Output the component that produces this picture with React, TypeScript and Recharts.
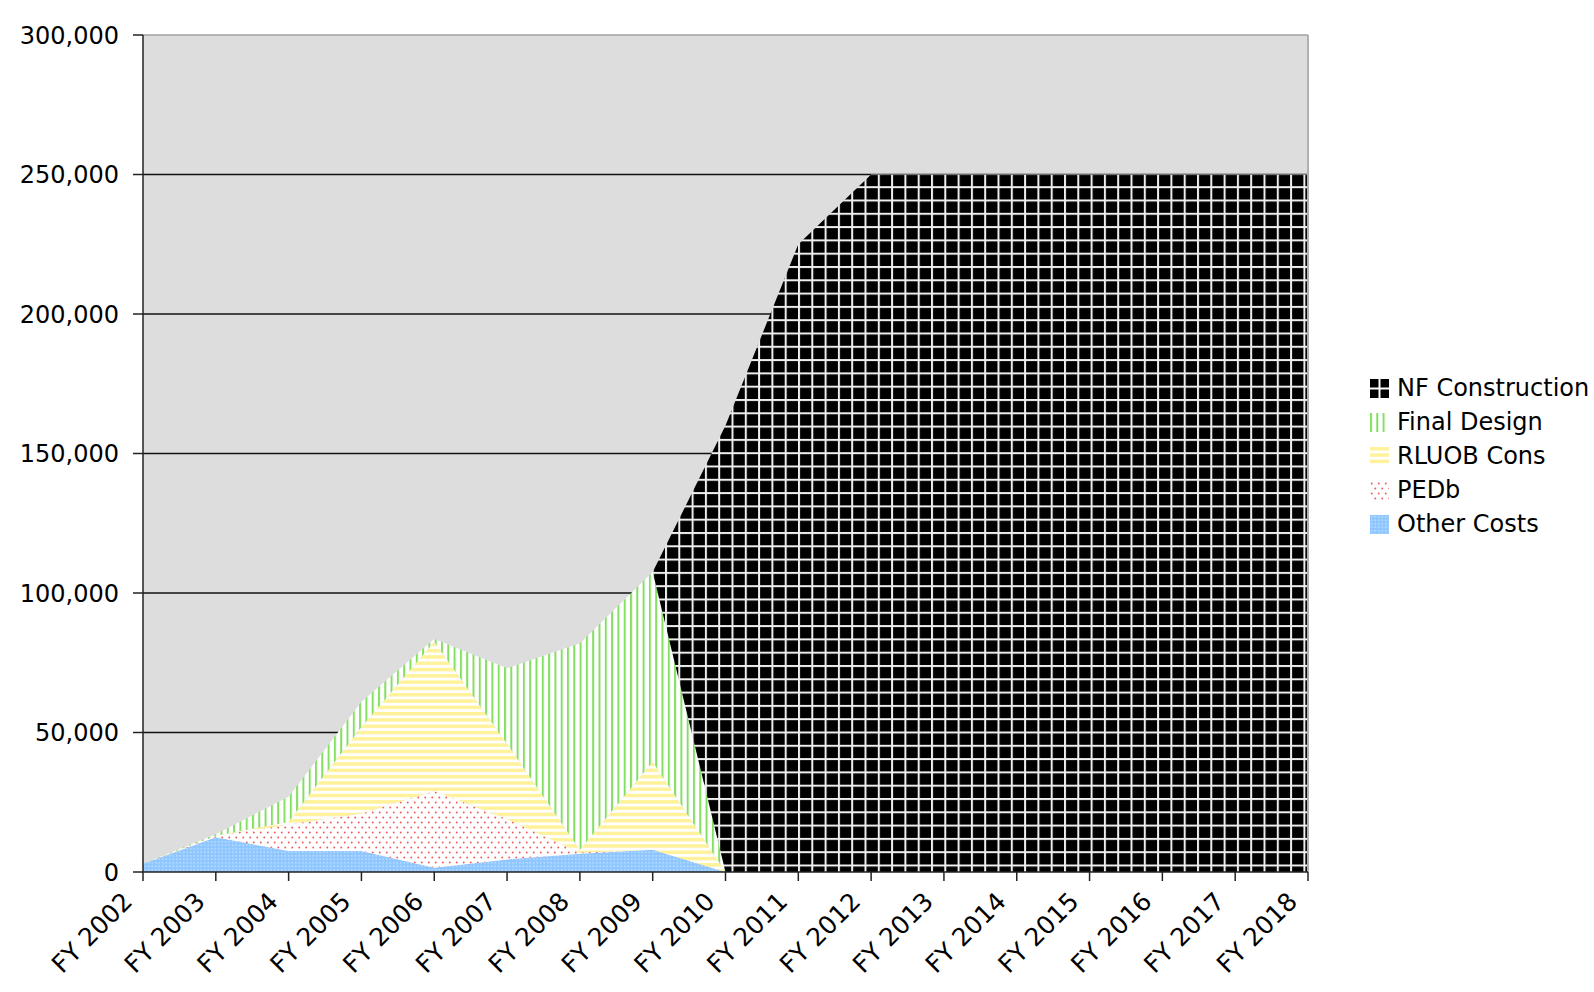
import React from 'react';
import { AreaChart, Area, XAxis, YAxis, CartesianGrid, ReferenceLine } from 'recharts';

const years = [
  'FY 2002', 'FY 2003', 'FY 2004', 'FY 2005', 'FY 2006', 'FY 2007', 'FY 2008', 'FY 2009', 'FY 2010',
  'FY 2011', 'FY 2012', 'FY 2013', 'FY 2014', 'FY 2015', 'FY 2016', 'FY 2017', 'FY 2018',
];
const otherCosts = [3000, 12500, 7500, 7500, 1500, 4500, 6500, 8000, 0, 0, 0, 0, 0, 0, 0, 0, 0];
const pedb = [0, 500, 9500, 13500, 27500, 14500, 500, 0, 0, 0, 0, 0, 0, 0, 0, 0, 0];
const rluobCons = [0, 0, 1000, 31000, 53500, 27000, 1000, 31500, 0, 0, 0, 0, 0, 0, 0, 0, 0];
const finalDesign = [0, 500, 9000, 9000, 1000, 27000, 74000, 68000, 0, 0, 0, 0, 0, 0, 0, 0, 0];
const nfConstruction = [0, 0, 0, 0, 0, 0, 0, 0, 160000, 225000, 250000, 250000, 250000, 250000, 250000, 250000, 250000];
const yTicks = [0, 50000, 100000, 150000, 200000, 250000, 300000];
const gridValues = [50000, 100000, 150000, 200000, 250000];

const seriesNames = {
  other: 'Other Costs',
  pedb: 'PEDb',
  rluob: 'RLUOB Cons',
  design: 'Final Design',
  nf: 'NF Construction',
};

const data = years.map((year, i) => ({
  year,
  other: otherCosts[i],
  pedb: pedb[i],
  rluob: rluobCons[i],
  design: finalDesign[i],
  nf: nfConstruction[i],
}));

const FONT = '"DejaVu Sans", Verdana, sans-serif';

function Patterns() {
  return (
    <svg width={0} height={0} style={{ position: 'absolute' }}>
      <defs>
        <pattern id="patNF" patternUnits="userSpaceOnUse" width={13.3} height={13.3}>
          <rect width={13.3} height={13.3} fill="#000" />
          <rect x={0} y={0} width={13.3} height={2} fill="#eeeeee" />
          <rect x={0} y={0} width={2} height={13.3} fill="#eeeeee" />
        </pattern>
        <pattern id="patDesign" patternUnits="userSpaceOnUse" width={6.3} height={10}>
          <rect width={6.3} height={10} fill="#fff" />
          <rect x={0} y={0} width={2} height={10} fill="#84de62" />
        </pattern>
        <pattern id="patRluob" patternUnits="userSpaceOnUse" width={10} height={6.3}>
          <rect width={10} height={6.3} fill="#fff" />
          <rect x={0} y={0} width={10} height={3.5} fill="#fff29a" />
        </pattern>
        <pattern id="patPedb" patternUnits="userSpaceOnUse" width={7} height={10}>
          <rect width={7} height={10} fill="#fff" />
          <circle cx={1.75} cy={2.5} r={0.95} fill="#f05858" />
          <circle cx={5.25} cy={7.5} r={0.95} fill="#f05858" />
        </pattern>
        <pattern id="patOther" patternUnits="userSpaceOnUse" width={3.5} height={3.5}>
          <rect width={3.5} height={3.5} fill="#8ec6ff" />
          <circle cx={1.75} cy={1.75} r={0.7} fill="#e8f3ff" />
        </pattern>
      </defs>
    </svg>
  );
}

const XTick = (props: any) => {
  const { x, y, payload } = props;
  return (
    <g transform={`translate(${x},${y})`}>
      <text
        x={0}
        y={0}
        dx={-22}
        dy={9}
        transform="rotate(-45)"
        textAnchor="end"
        fill="#000"
        fontSize={25}
        fontFamily={FONT}
      >
        {payload.value}
      </text>
    </g>
  );
};

const legendItems = [
  { key: 'nf', fill: 'nf' },
  { key: 'design', fill: 'url(#patDesign)' },
  { key: 'rluob', fill: 'url(#patRluob)' },
  { key: 'pedb', fill: 'url(#patPedb)' },
  { key: 'other', fill: 'url(#patOther)' },
];

function LegendBox() {
  return (
    <div style={{ position: 'absolute', left: 1370, top: 371, fontFamily: FONT, fontSize: 24, color: '#000' }}>
      {legendItems.map((it) => (
        <div key={it.key} style={{ display: 'flex', alignItems: 'center', height: 34, whiteSpace: 'nowrap' }}>
          <svg width={19} height={19} style={{ marginRight: 8 }}>
            {it.fill === 'nf' ? (
              <g>
                <rect width={19} height={19} fill="#000" />
                <rect x={8.5} y={0} width={2} height={19} fill="#fff" />
                <rect x={0} y={8.5} width={19} height={2} fill="#fff" />
              </g>
            ) : (
              <rect width={19} height={19} fill={it.fill} />
            )}
          </svg>
          <span>{(seriesNames as any)[it.key]}</span>
        </div>
      ))}
    </div>
  );
}

export default function App() {
  return (
    <div style={{ position: 'absolute', left: 0, top: 0, width: 1594, height: 992, background: '#fff' }}>
      <Patterns />
      <AreaChart
        width={1594}
        height={992}
        data={data}
        margin={{ top: 35, right: 286, bottom: 0, left: 0 }}
      >
        <CartesianGrid
          vertical={false}
          horizontalValues={gridValues}
          stroke="#111"
          strokeWidth={1.3}
          fill="#dddddd"
          fillOpacity={1}
        />
        <XAxis
          dataKey="year"
          interval={0}
          tick={<XTick />}
          tickSize={9}
          tickMargin={0}
          axisLine={{ stroke: '#222', strokeWidth: 1.5 }}
          tickLine={{ stroke: '#222', strokeWidth: 1.5 }}
          height={120}
        />
        <YAxis
          domain={[0, 300000]}
          ticks={yTicks}
          interval={0}
          width={143}
          tickSize={10}
          tickMargin={14}
          tickFormatter={(v: number) => v.toLocaleString('en-US')}
          tick={{ fill: '#000', fontSize: 24, fontFamily: FONT }}
          axisLine={{ stroke: '#222', strokeWidth: 1.5 }}
          tickLine={{ stroke: '#222', strokeWidth: 1.5 }}
        />
        <Area type="linear" dataKey="other" name={seriesNames.other} stackId="1" stroke="none" fill="url(#patOther)" fillOpacity={1} isAnimationActive={false} />
        <Area type="linear" dataKey="pedb" name={seriesNames.pedb} stackId="1" stroke="none" fill="url(#patPedb)" fillOpacity={1} isAnimationActive={false} />
        <Area type="linear" dataKey="rluob" name={seriesNames.rluob} stackId="1" stroke="none" fill="url(#patRluob)" fillOpacity={1} isAnimationActive={false} />
        <Area type="linear" dataKey="design" name={seriesNames.design} stackId="1" stroke="none" fill="url(#patDesign)" fillOpacity={1} isAnimationActive={false} />
        <Area type="linear" dataKey="nf" name={seriesNames.nf} stackId="1" stroke="none" fill="url(#patNF)" fillOpacity={1} isAnimationActive={false} />
        <ReferenceLine y={300000} stroke="#a0a0a0" strokeWidth={1.5} />
        <ReferenceLine x="FY 2018" stroke="#b0b0b0" strokeWidth={2} />
      </AreaChart>
      <LegendBox />
    </div>
  );
}
